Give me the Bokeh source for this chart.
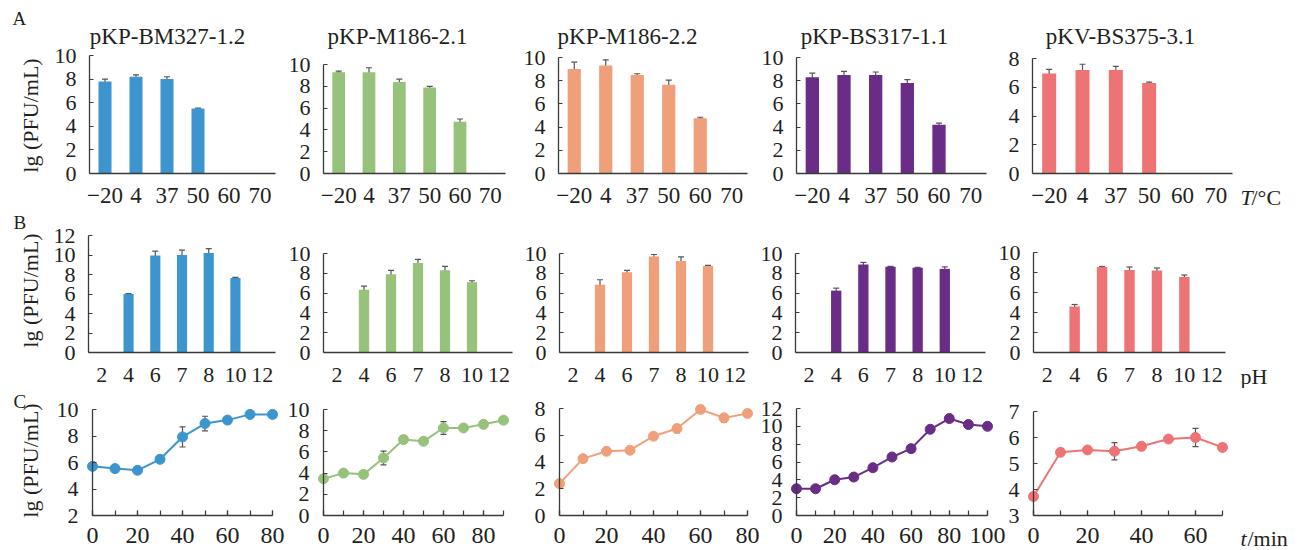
from math import pi
from bokeh.plotting import figure
from bokeh.models import (Range1d, FixedTicker, Whisker, ColumnDataSource, Label, TeeHead)
from bokeh.layouts import row, column
from bokeh.embed import file_html
from bokeh.resources import INLINE

# ---------------- data ----------------
titles = ["pKP-BM327-1.2", "pKP-M186-2.1", "pKP-M186-2.2", "pKP-BS317-1.1", "pKV-BS375-3.1"]
colors = ["#3C95CF", "#97C27C", "#EFA07A", "#6A2D87", "#EE7375"]

# A: temperature (°C)
temp_labels = ["\u221220", "4", "37", "50", "60", "70"]
temp_vals = [
    [7.8, 8.2, 8.0, 5.5, 0, 0],
    [9.3, 9.3, 8.4, 7.9, 4.75, 0],
    [9.0, 9.3, 8.5, 7.65, 4.77, 0],
    [8.3, 8.5, 8.5, 7.8, 4.2, 0],
    [6.95, 7.2, 7.2, 6.3, 0, 0],
]
temp_err = [
    [0.2, 0.15, 0.2, 0.05, 0, 0],
    [0.1, 0.4, 0.25, 0.1, 0.25, 0],
    [0.6, 0.5, 0.1, 0.4, 0.08, 0],
    [0.35, 0.3, 0.25, 0.3, 0.15, 0],
    [0.3, 0.4, 0.25, 0.05, 0, 0],
]
temp_ymax = [10, 10, 10, 10, 8]

# B: pH
ph_labels = ["2", "4", "6", "7", "8", "10", "12"]
ph_vals = [
    [0, 6.0, 9.95, 10.0, 10.2, 7.65, 0],
    [0, 6.35, 7.9, 9.05, 8.3, 7.1, 0],
    [0, 6.85, 8.1, 9.7, 9.25, 8.75, 0],
    [0, 6.25, 8.9, 8.65, 8.55, 8.45, 0],
    [0, 4.6, 8.55, 8.25, 8.2, 7.55, 0],
]
ph_err = [
    [0, 0.05, 0.45, 0.5, 0.45, 0.05, 0],
    [0, 0.35, 0.4, 0.35, 0.4, 0.15, 0],
    [0, 0.5, 0.2, 0.2, 0.4, 0.05, 0],
    [0, 0.25, 0.2, 0.05, 0.05, 0.2, 0],
    [0, 0.2, 0.05, 0.3, 0.25, 0.2, 0],
]
ph_ymax = [12, 10, 10, 10, 10]

# C: one-step growth (min)
time1 = [0, 10, 20, 30, 40, 50, 60, 70, 80]
vals1 = [5.71, 5.54, 5.41, 6.24, 7.93, 8.94, 9.2, 9.63, 9.63]
err1 = [0, 0, 0, 0, 0.76, 0.55, 0, 0, 0]
time2 = [0, 10, 20, 30, 40, 50, 60, 70, 80, 90]
vals2 = [3.47, 4.0, 3.88, 5.43, 7.16, 7.0, 8.26, 8.26, 8.6, 8.99]
err2 = [0, 0, 0, 0.65, 0, 0, 0.6, 0, 0, 0]
time3 = [0, 10, 20, 30, 40, 50, 60, 70, 80]
vals3 = [2.38, 4.25, 4.8, 4.88, 5.93, 6.5, 7.93, 7.3, 7.63]
err3 = [0, 0, 0, 0, 0, 0.3, 0, 0.3, 0]
time4 = [0, 10, 20, 30, 40, 50, 60, 70, 80, 90, 100]
vals4 = [3.0, 3.0, 4.01, 4.31, 5.36, 6.56, 7.5, 9.67, 10.87, 10.2, 10.0]
err4 = [0, 0, 0, 0, 0, 0, 0, 0, 0, 0, 0]
time5 = [0, 10, 20, 30, 40, 50, 60, 70]
vals5 = [3.73, 5.43, 5.52, 5.47, 5.66, 5.94, 6.0, 5.62]
err5 = [0, 0, 0, 0.33, 0, 0, 0.35, 0]
growth_t = [time1, time2, time3, time4, time5]
growth_v = [vals1, vals2, vals3, vals4, vals5]
growth_e = [err1, err2, err3, err4, err5]
growth_y = [(2, 10, 2), (0, 10, 2), (0, 8, 2), (0, 12, 2), (3, 7, 1)]
growth_xmax = [80, 90, 80, 100, 70]

# ---------------- layout (page pixels) ----------------
SERIF = "Liberation Serif"
INK = "#231f20"
AXC = "#3a3a3a"
ERRC = "#555555"
LABEL_DY = 0.22       # Label glyphs sit ~descent low: lift them (fraction of size)
LABEL_DX_ROT = 3      # same for the rotated label

ROW_Y = [(0, 209), (209, 388), (388, 550)]
COL_EDGES = [
    [0, 290, 524, 758, 1000, 1302],
    [0, 288, 522, 758, 995, 1302],
    [0, 288, 521, 760, 1006, 1302],
]
AXIS_X = [
    [(89, 275), (323, 505), (558, 747), (796, 986), (1032, 1232)],
    [(88, 275), (323, 512), (559, 748), (795, 985), (1033, 1225)],
    [(92, 272), (323, 503), (559, 747), (796, 987), (1033, 1222)],
]
AXIS_Y = [
    [(55, 173), (64, 173), (57, 173), (57, 173), (58, 173)],
    [(235, 352), (253, 352), (253, 352), (253, 352), (252, 352)],
    [(409, 515), (409, 515), (408, 515), (408, 515), (411, 515)],
]
TITLE_X = [167, 397, 627, 874, 1120]


def make_fig(r, c, x0, x1, y0, y1):
    """Figure whose frame fills the whole canvas; data (x0..x1, y0..y1)
    is mapped onto the axis box given in AXIS_X / AXIS_Y."""
    by0, by1 = ROW_Y[r]
    bx0, bx1 = COL_EDGES[r][c], COL_EDGES[r][c + 1]
    L, R = AXIS_X[r][c]
    T, B = AXIS_Y[r][c]
    kx = (x1 - x0) / (R - L)
    ky = (y1 - y0) / (B - T)
    xr = Range1d(x0 - (L - bx0) * kx, x1 + (bx1 - R) * kx)
    yr = Range1d(y0 - (by1 - B) * ky, y1 + (T - by0) * ky)
    p = figure(width=bx1 - bx0, height=by1 - by0, x_range=xr, y_range=yr,
               min_border=0, output_backend="svg", toolbar_location=None)
    p.outline_line_color = None
    p.xgrid.visible = False
    p.ygrid.visible = False
    p.background_fill_color = "white"
    p.border_fill_color = "white"
    for ax in p.axis:
        ax.axis_line_color = AXC
        ax.axis_line_width = 1.3
        ax.major_tick_line_color = AXC
        ax.major_tick_line_width = 1.2
        ax.minor_tick_line_color = AXC
        ax.minor_tick_line_width = 1.2
        ax.major_label_text_font = SERIF
        ax.major_label_text_color = INK
        ax.major_tick_out = 0
        ax.minor_tick_out = 0
    p.xaxis.fixed_location = y0
    p.xaxis.bounds = (x0, x1)
    p.yaxis.fixed_location = x0
    p.yaxis.bounds = (y0, y1)
    p.yaxis.major_tick_in = 4
    p.yaxis.minor_tick_in = 0
    p.yaxis.major_label_text_font_size = "22px"
    p.yaxis.major_label_standoff = 13
    p._origin = (bx0, by1)
    return p


def add_text(p, px, py, text, size=22, align="left", baseline="alphabetic",
             angle=0.0, style="normal"):
    bx0, by1 = p._origin
    if angle:
        px -= LABEL_DX_ROT
    else:
        py -= LABEL_DY * size
    p.add_layout(Label(x=px - bx0, y=by1 - py, x_units="screen", y_units="screen",
                       text=text, text_font=SERIF, text_font_size=f"{size}px",
                       text_color=INK, text_align=align, text_baseline=baseline,
                       angle=angle, text_font_style=style))


def whisker(p, src, base):
    head = dict(size=6, line_color=ERRC, line_width=1.2)
    p.add_layout(Whisker(base=base, upper="up", lower="lo", source=src,
                         line_color=ERRC, line_width=1.2,
                         upper_head=TeeHead(**head), lower_head=TeeHead(**head)))


def bar_panel(r, c, labels, vals, errs, ymax, width, fsize, standoff):
    n = len(labels)
    p = make_fig(r, c, 0.5, n + 0.5, 0, ymax)
    pos = list(range(1, n + 1))
    xs = [i for i, v in zip(pos, vals) if v > 0]
    ys = [v for v in vals if v > 0]
    es = [e for v, e in zip(vals, errs) if v > 0]
    src = ColumnDataSource(dict(x=xs, top=ys,
                                up=[y + e for y, e in zip(ys, es)],
                                lo=[y - e for y, e in zip(ys, es)]))
    p.vbar(x="x", top="top", width=width, source=src,
           fill_color=colors[c], line_color=None)
    whisker(p, src, "x")
    p.yaxis.ticker = FixedTicker(ticks=list(range(0, ymax + 1, 2)))
    p.xaxis.ticker = FixedTicker(ticks=pos)
    p.xaxis.major_label_overrides = {i: lab for i, lab in zip(pos, labels)}
    p.xaxis.major_tick_in = 0
    p.xaxis.major_label_text_font_size = fsize
    p.xaxis.major_label_standoff = standoff
    return p


def line_panel(c):
    xmax = growth_xmax[c]
    y0, y1, ys = growth_y[c]
    p = make_fig(2, c, 0, xmax, y0, y1)
    t, v, e = growth_t[c], growth_v[c], growth_e[c]
    src = ColumnDataSource(dict(t=t, v=v))
    p.line("t", "v", source=src, line_color=colors[c], line_width=2)
    p.scatter("t", "v", source=src, size=10, fill_color=colors[c], line_color=colors[c])
    et = [ti for ti, ei in zip(t, e) if ei > 0]
    ev = [vi for vi, ei in zip(v, e) if ei > 0]
    ee = [ei for ei in e if ei > 0]
    if et:
        esrc = ColumnDataSource(dict(t=et, up=[a + b for a, b in zip(ev, ee)],
                                     lo=[a - b for a, b in zip(ev, ee)]))
        whisker(p, esrc, "t")
    p.xaxis.ticker = FixedTicker(ticks=list(range(0, xmax + 1, 20)),
                                 minor_ticks=list(range(0, xmax + 1, 10)))
    p.xaxis.major_tick_in = 5
    p.xaxis.minor_tick_in = 5
    p.xaxis.major_label_text_font_size = "24px"
    p.xaxis.major_label_standoff = 12
    p.yaxis.ticker = FixedTicker(ticks=list(range(y0, y1 + 1, ys)))
    p.yaxis.major_label_standoff = 14
    return p


rowA, rowB, rowC = [], [], []
for c in range(5):
    pa = bar_panel(0, c, temp_labels, temp_vals[c], temp_err[c], temp_ymax[c],
                   0.42, "23px", 14)
    add_text(pa, TITLE_X[c], 41, titles[c], size=23, align="center")
    rowA.append(pa)
    rowB.append(bar_panel(1, c, ph_labels, ph_vals[c], ph_err[c], ph_ymax[c],
                          0.38, "22px", 15))
    rowC.append(line_panel(c))

# panel letters and y labels
add_text(rowA[0], 12, 22, "A", size=19)
add_text(rowB[0], 13, 226, "B", size=19)
add_text(rowC[0], 13, 405, "C", size=19)
for p, cy in [(rowA[0], 115), (rowB[0], 290), (rowC[0], 460)]:
    add_text(p, 33, cy, "lg (PFU/mL)", size=22, align="center",
             baseline="middle", angle=pi / 2)

# axis unit labels on the right
add_text(rowA[4], 1240, 202, "T", style="italic")
add_text(rowA[4], 1251, 202, "/\u00b0C")
add_text(rowB[4], 1240, 381, "pH")
add_text(rowC[4], 1240, 543, "t", style="italic")
add_text(rowC[4], 1247, 543, "/min")

layout = column(row(*rowA), row(*rowB), row(*rowC))
open("out.html", "w").write(file_html(layout, INLINE))
